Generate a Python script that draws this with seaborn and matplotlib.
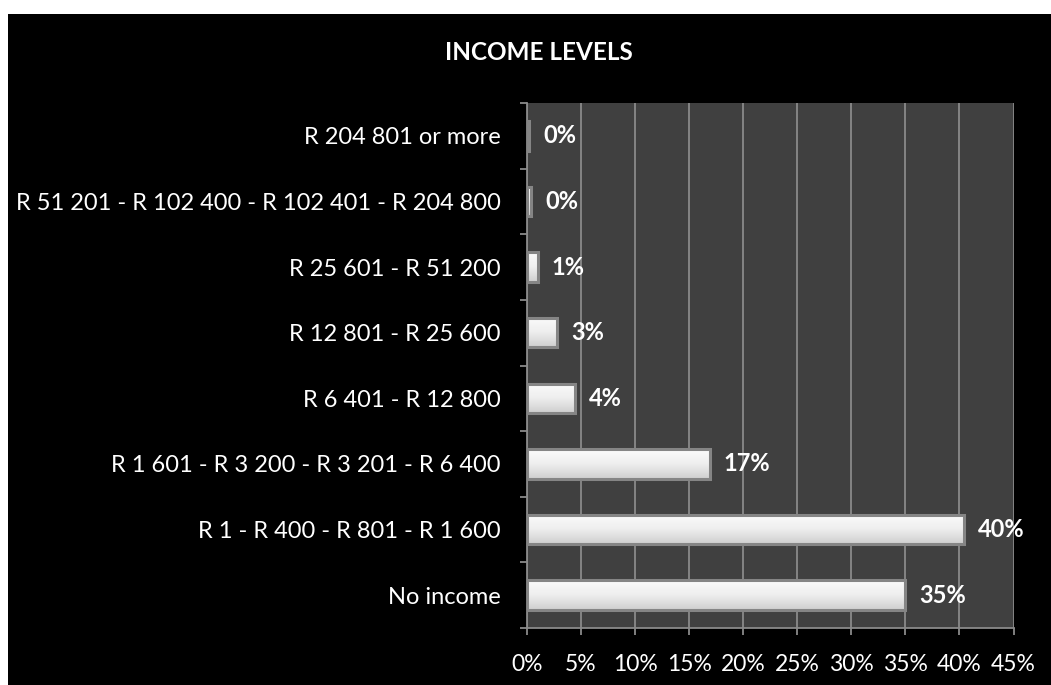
import matplotlib
matplotlib.use("Agg")
import matplotlib.pyplot as plt
from matplotlib.patches import Rectangle
from matplotlib.ticker import FuncFormatter, MultipleLocator, FixedLocator
import numpy as np
import seaborn as sns
import pandas as pd

categories = [
    "R 204 801 or more",
    "R 51 201 - R 102 400 - R 102 401 - R 204 800",
    "R 25 601 - R 51 200",
    "R 12 801 - R 25 600",
    "R 6 401 - R 12 800",
    "R 1 601 - R 3 200 - R 3 201 - R 6 400",
    "R 1 - R 400 - R 801 - R 1 600",
    "No income",
]
values = [0.2, 0.4, 1.0, 2.8, 4.4, 16.9, 40.4, 35.0]
labels = ["0%", "0%", "1%", "3%", "4%", "17%", "40%", "35%"]
title = "INCOME LEVELS"

sns.set_theme(style="dark")
plt.rcParams["font.family"] = ["Lato", "DejaVu Sans"]

df = pd.DataFrame({"category": categories, "value": values})

fig = plt.figure(figsize=(10.51, 6.85), dpi=100, facecolor="black")
# white margins on left and top
fig.patches.append(Rectangle((0, 0), 8 / 1051, 1, transform=fig.transFigure,
                             facecolor="white", edgecolor="none", zorder=-1))
fig.patches.append(Rectangle((0, 1 - 14 / 685), 1, 14 / 685, transform=fig.transFigure,
                             facecolor="white", edgecolor="none", zorder=-1))

ax = fig.add_axes([527 / 1051, 1 - 628 / 685, (1013.5 - 527) / 1051, (628 - 103) / 685])
ax.set_facecolor("#404040")

sns.barplot(data=df, x="value", y="category", order=categories, orient="h",
            color="#ececec", edgecolor="#858585", linewidth=2.2, width=0.45,
            ax=ax, zorder=3)

ax.set_xlim(0, 45)
ax.set_ylim(len(categories) - 0.5, -0.5)

# vertical gradient fill on each bar (white top -> light grey bottom)
grad = np.linspace(0, 1, 64).reshape(-1, 1)
cmap = matplotlib.colors.LinearSegmentedColormap.from_list(
    "bar", ["#fbfbfb", "#eeeeee", "#cfcfcf"])
for p in ax.patches:
    x0, y0 = p.get_x(), p.get_y()
    w, h = p.get_width(), p.get_height()
    im = ax.imshow(grad, cmap=cmap, aspect="auto", interpolation="bilinear",
                   extent=(x0, x0 + w, y0 + h, y0), zorder=3.5, origin="upper")
    im.set_clip_path(p)
    p.set_zorder(4)
    p.set_facecolor("none")
ax.set_xlim(0, 45)
ax.set_ylim(len(categories) - 0.5, -0.5)

ax.xaxis.set_major_locator(MultipleLocator(5))
ax.xaxis.set_major_formatter(FuncFormatter(lambda v, p: f"{int(round(v))}%"))
ax.grid(axis="x", color="#8a8a8a", linewidth=1.3, zorder=0)
ax.grid(axis="y", visible=False)
ax.set_axisbelow(True)

for s in ["top", "right"]:
    ax.spines[s].set_visible(False)
for s in ["left", "bottom"]:
    ax.spines[s].set_visible(True)
    ax.spines[s].set_color("#8a8a8a")
    ax.spines[s].set_linewidth(1.3)

ax.set_xlabel("")
ax.set_ylabel("")
ax.tick_params(axis="x", colors="#8a8a8a", labelcolor="white", labelsize=16.5,
               length=5, width=1.3, pad=14, bottom=True)
ax.tick_params(axis="y", which="major", labelcolor="white", labelsize=17,
               length=0, pad=19)
ax.yaxis.set_minor_locator(FixedLocator([i - 0.5 for i in range(len(categories) + 1)]))
ax.tick_params(axis="y", which="minor", colors="#8a8a8a", length=5, width=1.3, left=True)

for i, (v, lab) in enumerate(zip(values, labels)):
    ax.annotate(lab, xy=(v, i), xytext=(14, 0), textcoords="offset pixels",
                ha="left", va="center", color="white", fontsize=17,
                fontweight="bold", zorder=5)

fig.text(539 / 1051, 1 - 53 / 685, title, ha="center", va="center",
         color="white", fontsize=17.5, fontweight="bold")

fig.savefig("out.png", dpi=100, facecolor=fig.get_facecolor())
